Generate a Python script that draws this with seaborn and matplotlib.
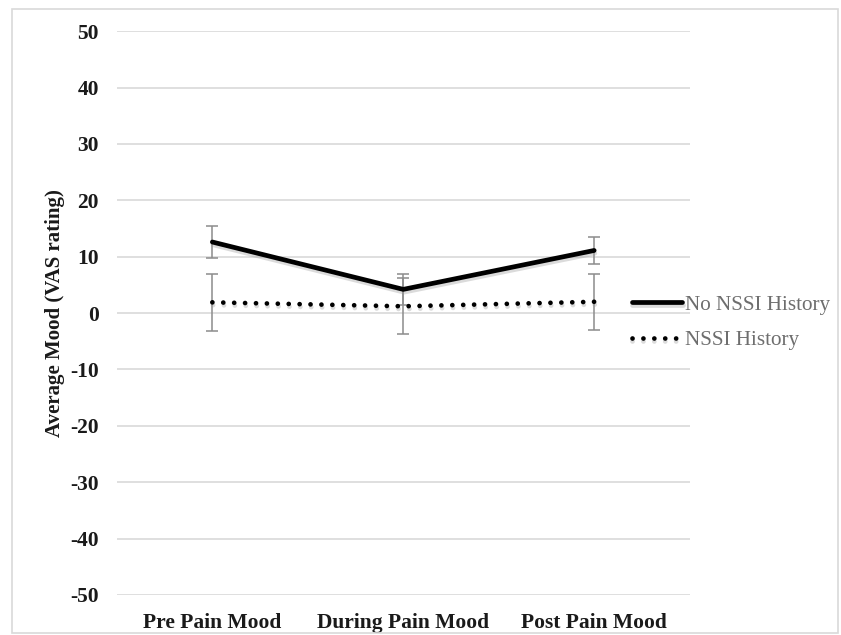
import numpy as np
import pandas as pd
import matplotlib
matplotlib.use("Agg")
import matplotlib.pyplot as plt
import matplotlib.patheffects as pe
from matplotlib.patches import Rectangle
import seaborn as sns

# data
phases = ["Pre Pain Mood", "During Pain Mood", "Post Pain Mood"]
groups = ["No NSSI History", "NSSI History"]
no_nssi_mean = [12.6, 4.2, 11.1]
no_nssi_err = [2.9, 2.8, 2.4]
nssi_mean = [1.9, 1.2, 2.0]
nssi_err = [5.0, 5.0, 5.0]
y_ticks = list(range(-50, 51, 10))

df = pd.DataFrame({
    "phase": phases * 2,
    "group": [groups[0]] * 3 + [groups[1]] * 3,
    "mood": no_nssi_mean + nssi_mean,
    "err": no_nssi_err + nssi_err,
})

sns.set_theme(style="white")
plt.rcParams["font.family"] = ["Liberation Serif", "DejaVu Serif"]

fig = plt.figure(figsize=(8.41, 6.35), dpi=100)
ax = fig.add_axes([0.139, 0.063, 0.681, 0.888])

# error bars first, under the lines
for g in groups:
    sub = df[df["group"] == g]
    ax.errorbar(sub["phase"], sub["mood"], yerr=sub["err"], fmt="none",
                ecolor="#8c8c8c", elinewidth=1.1, capsize=4, capthick=1.1, zorder=2)

sns.lineplot(data=df, x="phase", y="mood", style="group", style_order=groups,
             dashes=["", (0.01, 2.3)], color="black", linewidth=3.4,
             errorbar=None, sort=False, legend=False, ax=ax, zorder=3)

shadow = [pe.SimpleLineShadow(offset=(0.5, -2), shadow_color="#999999", alpha=0.35), pe.Normal()]
for ln in ax.lines[-2:]:
    ln.set_dash_capstyle("round")
    ln.set_solid_capstyle("round")
    ln.set_path_effects(shadow)

ax.set_xlim(-0.5, 2.5)
ax.set_ylim(-50, 50)
ax.set_yticks(y_ticks)
ax.set_yticklabels([str(t) for t in y_ticks], fontsize=15.5, fontweight="bold", color="#1a1a1a")
ax.tick_params(axis="x", labelsize=15.5, colors="#1a1a1a", pad=13, length=0)
ax.tick_params(axis="y", pad=13, length=0)
for lbl in ax.get_xticklabels():
    lbl.set_fontweight("bold")
ax.yaxis.grid(True, color="#d9d9d9", linewidth=1.2)
ax.set_axisbelow(True)
for s in ax.spines.values():
    s.set_visible(False)
ax.set_xlabel("")
ax.set_ylabel("Average Mood (VAS rating)", fontsize=15, fontweight="bold", color="#1a1a1a")
ax.yaxis.set_label_coords(-0.091, 0.5)

handles = ax.lines[-2:]
leg = fig.legend(handles, groups, loc="center left", bbox_to_anchor=(0.751, 0.492),
                 frameon=False, fontsize=15.2, handlelength=2.4, handletextpad=0.15,
                 labelspacing=0.75, borderpad=0, borderaxespad=0)
for t in leg.get_texts():
    t.set_color("#6e6e6e")

fig.patches.append(Rectangle((0.014, 0.003), 0.982, 0.983, transform=fig.transFigure,
                             fill=False, edgecolor="#d9d9d9", linewidth=1.2))

fig.savefig("out.png", dpi=100)
